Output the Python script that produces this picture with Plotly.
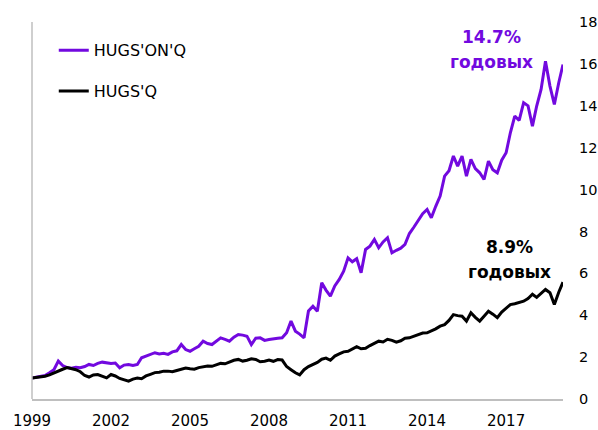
import pandas as pd
import plotly.graph_objects as go

# bi-monthly observations, Jan 1999 .. Mar 2019
dates = pd.date_range("1999-01-01", periods=122, freq="2MS")

hugs_on_q = [
    1.00, 1.04, 1.08, 1.12, 1.25, 1.40,   # 1999
    1.81, 1.60, 1.50, 1.47, 1.52, 1.49,   # 2000
    1.55, 1.65, 1.60, 1.70, 1.76, 1.72,   # 2001
    1.70, 1.72, 1.49, 1.62, 1.65, 1.60,   # 2002
    1.65, 1.97, 2.05, 2.12, 2.21, 2.15,   # 2003
    2.18, 2.13, 2.25, 2.30, 2.60, 2.36,   # 2004
    2.28, 2.40, 2.52, 2.76, 2.65, 2.60,   # 2005
    2.75, 2.92, 2.85, 2.76, 2.95, 3.08,   # 2006
    3.05, 3.00, 2.60, 2.90, 2.92, 2.80,   # 2007
    2.84, 2.88, 2.90, 2.92, 3.16, 3.72,   # 2008
    3.24, 3.10, 2.92, 4.20, 4.43, 4.19,   # 2009
    5.55, 5.20, 4.91, 5.40, 5.71, 6.10,   # 2010
    6.74, 6.55, 6.70, 6.03, 7.14, 7.30,   # 2011
    7.62, 7.22, 7.50, 7.70, 6.98, 7.10,   # 2012
    7.20, 7.38, 7.90, 8.20, 8.55, 8.85,   # 2013
    9.05, 8.65, 9.20, 9.69, 10.64, 10.90, # 2014
    11.60, 11.12, 11.60, 10.64, 11.44, 11.00,  # 2015
    10.80, 10.48, 11.36, 10.95, 10.80, 11.40,  # 2016
    11.76, 12.71, 13.51, 13.30, 14.15, 14.00,  # 2017
    13.03, 13.99, 14.78, 16.13, 14.94, 14.06,  # 2018
    15.10, 15.97,                              # 2019
]

hugs_q = [
    1.00, 1.03, 1.05, 1.09, 1.15, 1.25,   # 1999
    1.33, 1.42, 1.50, 1.44, 1.40, 1.30,   # 2000
    1.12, 1.05, 1.15, 1.17, 1.08, 1.01,   # 2001
    1.17, 1.10, 0.98, 0.92, 0.85, 0.95,   # 2002
    1.00, 0.97, 1.10, 1.18, 1.26, 1.28,   # 2003
    1.33, 1.33, 1.30, 1.36, 1.41, 1.48,   # 2004
    1.44, 1.42, 1.50, 1.55, 1.58, 1.56,   # 2005
    1.65, 1.70, 1.68, 1.78, 1.85, 1.89,   # 2006
    1.81, 1.85, 1.92, 1.89, 1.78, 1.80,   # 2007
    1.86, 1.80, 1.88, 1.86, 1.55, 1.40,   # 2008
    1.25, 1.15, 1.40, 1.55, 1.65, 1.75,   # 2009
    1.90, 1.95, 1.85, 2.05, 2.15, 2.25,   # 2010
    2.28, 2.40, 2.50, 2.40, 2.42, 2.55,   # 2011
    2.65, 2.76, 2.72, 2.85, 2.80, 2.71,   # 2012
    2.78, 2.90, 2.92, 3.00, 3.10, 3.15,   # 2013
    3.16, 3.25, 3.35, 3.48, 3.55, 3.75,   # 2014
    4.03, 3.98, 3.95, 3.72, 4.12, 3.90,   # 2015
    3.72, 3.95, 4.19, 4.05, 3.88, 4.15,   # 2016
    4.35, 4.51, 4.55, 4.62, 4.67, 4.80,   # 2017
    5.00, 4.85, 5.05, 5.23, 5.07, 4.51,   # 2018
    5.10, 5.58,                           # 2019
]

tick_years = ["1999", "2002", "2005", "2008", "2011", "2014", "2017"]
y_ticks = [0, 2, 4, 6, 8, 10, 12, 14, 16, 18]

PURPLE = "#7209DF"
FONT = "DejaVu Sans"

fig = go.Figure()
fig.add_trace(go.Scatter(x=dates, y=hugs_on_q, mode="lines", name="HUGS'ON'Q",
                         line=dict(color=PURPLE, width=3), legendgroup="a"))
fig.add_trace(go.Scatter(x=dates, y=hugs_q, mode="lines", name="HUGS'Q",
                         line=dict(color="#000000", width=3), legendgroup="b"))

fig.update_layout(
    width=598, height=430,
    margin=dict(l=32, r=35, t=22, b=31, autoexpand=False),
    paper_bgcolor="white", plot_bgcolor="white",
    font=dict(family=FONT, size=15, color="#000000"),
    showlegend=True,
    legend=dict(x=0.041, y=0.97, xanchor="left", yanchor="top",
                traceorder="grouped", tracegroupgap=17,
                bgcolor="rgba(0,0,0,0)", font=dict(size=16)),
    xaxis=dict(
        range=["1999-01-01", "2019-03-01"],
        tickvals=[f"{y}-01-01" for y in tick_years], ticktext=tick_years,
        showgrid=False, zeroline=False, automargin=False,
        showline=True, linecolor="#BFBFBF", linewidth=1.5,
        ticks="", ticklabelstandoff=7,
    ),
    yaxis=dict(
        range=[0, 18], tickvals=y_ticks, side="right",
        showgrid=False, zeroline=False, showline=False, automargin=False,
        ticks="", ticklabelstandoff=15, tickfont=dict(size=14.5),
    ),
    shapes=[dict(type="line", xref="paper", yref="paper", x0=0, x1=0, y0=0, y1=1,
                 line=dict(color="#BFBFBF", width=1.5))],
    annotations=[
        dict(text="<b>14.7%</b>", x=0.866, y=0.960, xref="paper", yref="paper",
             xanchor="center", yanchor="middle", showarrow=False,
             font=dict(family=FONT, size=17, color=PURPLE)),
        dict(text="<b>годовых</b>", x=0.866, y=0.894, xref="paper", yref="paper",
             xanchor="center", yanchor="middle", showarrow=False,
             font=dict(family=FONT, size=17, color=PURPLE)),
        dict(text="<b>8.9%</b>", x=0.900, y=0.403, xref="paper", yref="paper",
             xanchor="center", yanchor="middle", showarrow=False,
             font=dict(family=FONT, size=17, color="#000000")),
        dict(text="<b>годовых</b>", x=0.900, y=0.337, xref="paper", yref="paper",
             xanchor="center", yanchor="middle", showarrow=False,
             font=dict(family=FONT, size=17, color="#000000")),
    ],
)

fig.write_html("out.html")
